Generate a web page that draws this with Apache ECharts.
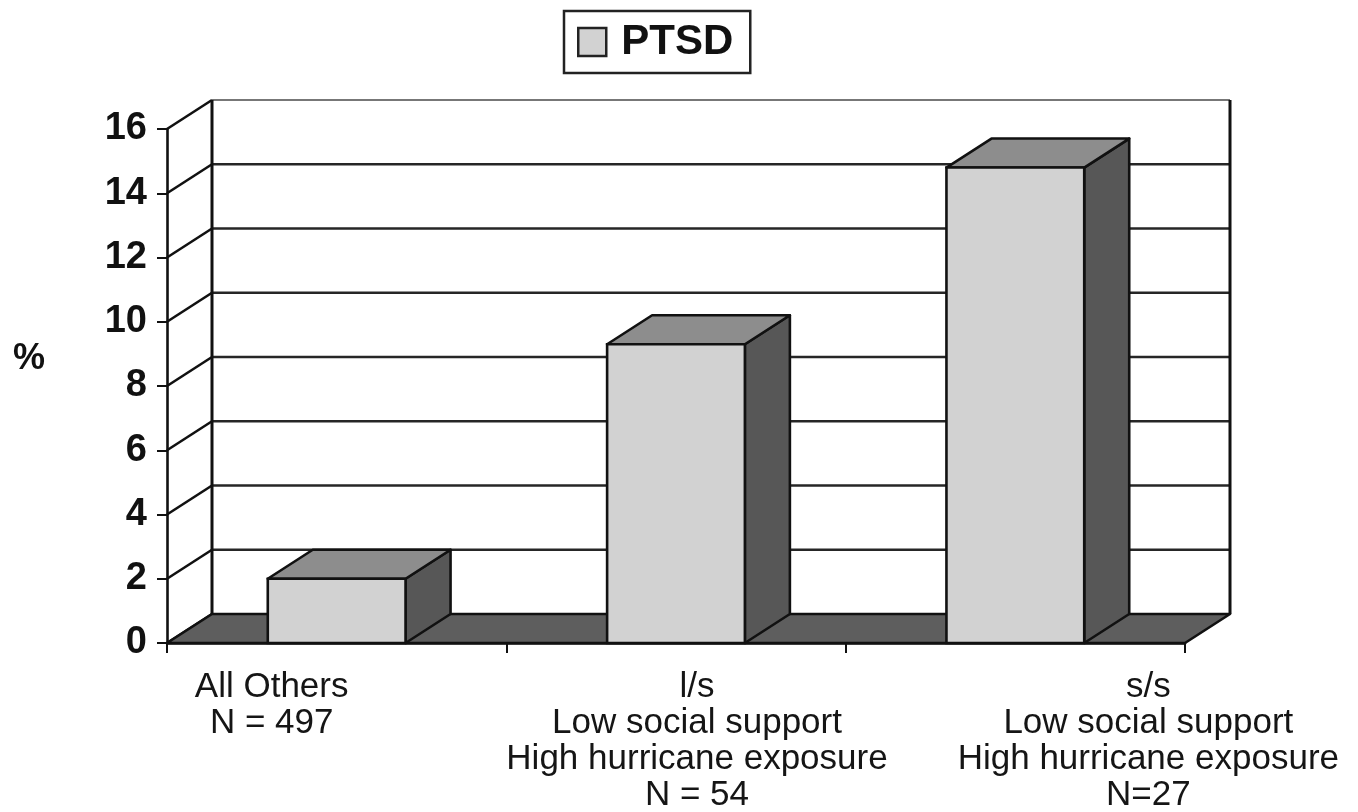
<!DOCTYPE html>
<html>
<head>
<meta charset="utf-8">
<title>PTSD by genotype group</title>
<script src="https://cdn.jsdelivr.net/npm/echarts@6/dist/echarts.min.js"></script>
<style>
  html, body { margin: 0; padding: 0; background: #ffffff; }
  #chart { width: 1358px; height: 812px; }
</style>
</head>
<body>
<div id="chart"></div>
<script>
// ---- data ----
const categories = [
  'All Others\nN = 497',
  'l/s\nLow social support\nHigh hurricane exposure\nN = 54',
  's/s\nLow social support\nHigh hurricane exposure\nN=27'
];
const ptsdPercent = [2.0, 9.3, 14.8];
const yTickValues = [0, 2, 4, 6, 8, 10, 12, 14, 16];
const seriesName = 'PTSD';
const axisUnit = '%';

// ---- look of the pseudo-3D box ----
const DEPTH_X = 45;          // horizontal shift from front plane to back wall
const DEPTH_Y = -29;         // vertical shift from front plane to back wall
const BAR_RATIO = 0.406;     // bar width as share of a category band
const LABEL_SHIFT = [-65, 21, 133]; // horizontal nudge of each category caption
const FONT = '"Liberation Sans", Arial, Helvetica, sans-serif';
const FRONT_FILL = '#d2d2d2';
const TOP_FILL = '#8d8d8d';
const SIDE_FILL = '#575757';
const FLOOR_FILL = '#5e5e5e';
const LINE = '#111111';
const LW = 2.6;

const yMin = yTickValues[0];
const yMax = yTickValues[yTickValues.length - 1];
const yStep = yTickValues[1] - yTickValues[0];

const chart = echarts.init(document.getElementById('chart'), null, { renderer: 'canvas' });

// Floor, back wall, side wall and their grid lines
function renderFrame(params, api) {
  const band = api.size([1, 0])[0];
  const first = api.coord([0, yMin]);
  const last = api.coord([categories.length - 1, yMin]);
  const xL = first[0] - band / 2;
  const xR = last[0] + band / 2;
  const y0 = first[1];
  const yTop = api.coord([0, yMax])[1];
  const children = [];

  // back wall (white)
  children.push({
    type: 'polygon',
    shape: { points: [[xL + DEPTH_X, yTop + DEPTH_Y], [xR + DEPTH_X, yTop + DEPTH_Y], [xR + DEPTH_X, y0 + DEPTH_Y], [xL + DEPTH_X, y0 + DEPTH_Y]] },
    style: { fill: '#ffffff', stroke: null }
  });

  // horizontal grid lines on the back wall and diagonals on the side wall
  yTickValues.forEach(function (v) {
    const y = api.coord([0, v])[1];
    if (v !== yMin) {
      children.push({
        type: 'line',
        shape: { x1: xL + DEPTH_X, y1: y + DEPTH_Y, x2: xR + DEPTH_X, y2: y + DEPTH_Y },
        style: { stroke: v === yMax ? '#777777' : '#262626', lineWidth: v === yMax ? 2 : LW }
      });
    }
    children.push({
      type: 'line',
      shape: { x1: xL, y1: y, x2: xL + DEPTH_X, y2: y + DEPTH_Y },
      style: { stroke: LINE, lineWidth: LW }
    });
  });

  // back-left and back-right edges of the wall
  children.push({
    type: 'line',
    shape: { x1: xL + DEPTH_X, y1: yTop + DEPTH_Y, x2: xL + DEPTH_X, y2: y0 + DEPTH_Y },
    style: { stroke: LINE, lineWidth: 3 }
  });
  children.push({
    type: 'line',
    shape: { x1: xR + DEPTH_X, y1: yTop + DEPTH_Y, x2: xR + DEPTH_X, y2: y0 + DEPTH_Y },
    style: { stroke: LINE, lineWidth: 3 }
  });

  // floor
  children.push({
    type: 'polygon',
    shape: { points: [[xL, y0], [xR, y0], [xR + DEPTH_X, y0 + DEPTH_Y], [xL + DEPTH_X, y0 + DEPTH_Y]] },
    style: { fill: FLOOR_FILL, stroke: LINE, lineWidth: LW, lineJoin: 'round' }
  });

  return { type: 'group', children: children };
}

// One shaded block per category plus its caption
function renderBar(params, api) {
  const idx = api.value(0);
  const val = api.value(1);
  const top = api.coord([idx, val]);
  const base = api.coord([idx, yMin]);
  const band = api.size([1, 0])[0];
  const w = band * BAR_RATIO;
  const xl = top[0] - w / 2;
  const xr = top[0] + w / 2;
  const yt = top[1];
  const yb = base[1];

  return {
    type: 'group',
    children: [
      {
        type: 'polygon',
        shape: { points: [[xr, yb], [xr + DEPTH_X, yb + DEPTH_Y], [xr + DEPTH_X, yt + DEPTH_Y], [xr, yt]] },
        style: { fill: SIDE_FILL, stroke: LINE, lineWidth: LW, lineJoin: 'round' }
      },
      {
        type: 'polygon',
        shape: { points: [[xl, yt], [xr, yt], [xr + DEPTH_X, yt + DEPTH_Y], [xl + DEPTH_X, yt + DEPTH_Y]] },
        style: { fill: TOP_FILL, stroke: LINE, lineWidth: LW, lineJoin: 'round' }
      },
      {
        type: 'rect',
        shape: { x: xl, y: yt, width: w, height: yb - yt },
        style: { fill: FRONT_FILL, stroke: LINE, lineWidth: LW }
      },
      {
        type: 'text',
        x: base[0] + LABEL_SHIFT[idx],
        y: yb + 26,
        style: {
          text: categories[idx],
          font: '35px ' + FONT,
          fill: '#151515',
          align: 'center',
          verticalAlign: 'top',
          lineHeight: 36
        }
      }
    ]
  };
}

const option = {
  backgroundColor: '#ffffff',
  animation: false,
  legend: {
    data: [seriesName],
    left: 564,
    top: 11,
    orient: 'horizontal',
    icon: 'rect',
    itemWidth: 28,
    itemHeight: 28,
    itemGap: 0,
    padding: [10, 17, 10, 13],
    borderColor: '#222222',
    borderWidth: 2.5,
    itemStyle: { color: FRONT_FILL, borderColor: '#222222', borderWidth: 2.5 },
    textStyle: {
      fontFamily: FONT,
      fontWeight: 'bold',
      fontSize: 42,
      color: '#111111',
      lineHeight: 42,
      padding: [0, 0, 0, 10]
    },
    selectedMode: false
  },
  grid: {
    left: 167,
    right: 173,
    top: 129,
    bottom: 169,
    containLabel: false
  },
  xAxis: {
    type: 'category',
    data: categories,
    boundaryGap: true,
    axisLine: { show: true, lineStyle: { color: LINE, width: LW } },
    axisTick: { show: true, length: 10, interval: 0, alignWithLabel: false, lineStyle: { color: LINE, width: 2 } },
    axisLabel: { show: false },
    splitLine: { show: false },
    z: 5
  },
  yAxis: {
    type: 'value',
    min: yMin,
    max: yMax,
    interval: yStep,
    axisLine: { show: true, lineStyle: { color: LINE, width: LW } },
    axisTick: { show: true, length: 10, lineStyle: { color: LINE, width: 2 } },
    axisLabel: {
      margin: 20,
      fontFamily: FONT,
      fontWeight: 'bold',
      fontSize: 38,
      color: '#111111'
    },
    splitLine: { show: false }
  },
  graphic: [
    {
      type: 'text',
      left: 13,
      top: 341,
      style: {
        text: axisUnit,
        font: 'bold 36px ' + FONT,
        fill: '#111111'
      }
    }
  ],
  series: [
    {
      name: 'frame',
      type: 'custom',
      renderItem: renderFrame,
      data: [[0, 0]],
      silent: true,
      z: 1,
      legendHoverLink: false
    },
    {
      name: seriesName,
      type: 'custom',
      renderItem: renderBar,
      itemStyle: { color: FRONT_FILL },
      encode: { x: 0, y: 1 },
      data: ptsdPercent.map(function (v, i) { return [i, v]; }),
      z: 3
    }
  ]
};

chart.setOption(option);
</script>
</body>
</html>
